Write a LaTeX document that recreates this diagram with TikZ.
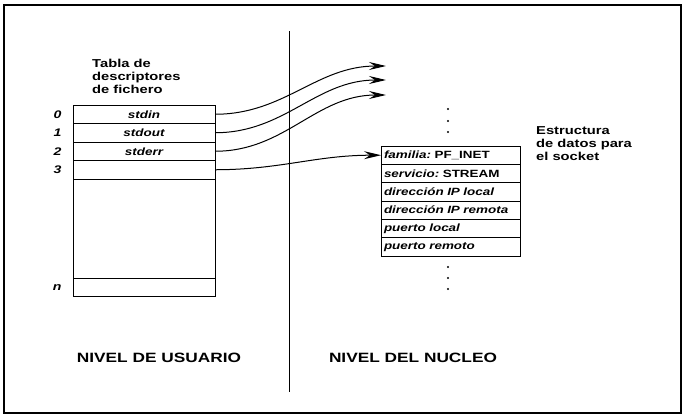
\documentclass[tikz,border=0pt]{standalone}
\usepackage{fontspec}
\setmainfont{Liberation Sans}[FakeStretch=1.28]
\usetikzlibrary{arrows.meta,positioning}

\begin{document}
\begin{tikzpicture}[
  x=1pt, y=-1pt,
  font=\fontsize{11}{13}\selectfont,
  node distance=0pt,
  fd/.style={draw, line width=1pt, minimum width=142, minimum height=18.5,
             inner sep=0pt, outer sep=0pt, font=\fontsize{10.5}{13}\selectfont\bfseries\itshape},
  campo/.style={draw, line width=1pt, minimum height=18.33, inner sep=3pt, outer sep=0pt,
                text width=133, align=left, font=\fontsize{10.5}{13}\selectfont\bfseries},
  idx/.style={font=\fontsize{11}{13}\selectfont\bfseries\itshape},
  titulo/.style={align=left, inner sep=2pt, font=\fontsize{11.5}{13}\selectfont\bfseries},
  nivel/.style={font=\fontsize{13.5}{16}\selectfont\bfseries},
  punto/.style={circle, fill, inner sep=0pt, minimum size=2.4pt},
  arr/.style={-{Stealth[length=17pt, width=8pt, inset=6pt]}, line width=1pt}
]
\useasboundingbox (0,0) rectangle (685,416);
\draw[line width=1.5pt] (4,5) rectangle (681,413);
\draw[line width=1pt] (289.5,31) -- (289.5,392);

\node[titulo, anchor=west] (tabla) at (90,76) {Tabla de\\descriptores\\de fichero};
\node[fd] (d0) at (144,114.25) {stdin};
\node[fd, below=of d0] (d1) {stdout};
\node[fd, below=of d1] (d2) {stderr};
\node[fd, below=of d2] (d3) {};
\node[fd, minimum height=99, below=of d3] (dvacio) {};
\node[fd, below=of dvacio] (dn) {};
\node[idx, left=8pt of d0] (i0) {0};
\node[idx, left=8pt of d1] (i1) {1};
\node[idx, left=8pt of d2] (i2) {2};
\node[idx, left=8pt of d3] (i3) {3};
\node[idx, left=8pt of dn] (in) {n};

\node[campo] (c0) at (450.5,155.2) {\itshape familia:\upshape\ PF\_INET};
\node[campo, below=of c0] (c1) {\itshape servicio:\upshape\ STREAM};
\node[campo, below=of c1] (c2) {\itshape dirección IP local};
\node[campo, below=of c2] (c3) {\itshape dirección IP remota};
\node[campo, below=of c3] (c4) {\itshape puerto local};
\node[campo, below=of c4] (c5) {\itshape puerto remoto};
\node[titulo, anchor=west] (estr) at (534,143.5) {Estructura\\de datos para\\el socket};

\foreach \i/\y in {1/109,2/121,3/132} \node[punto] (arriba\i) at (448,\y) {};
\foreach \i/\y in {1/267,2/278,3/289} \node[punto] (abajo\i) at (448,\y) {};

\coordinate (e0) at (386,66);
\coordinate (e1) at (386,80);
\coordinate (e2) at (386,95);
\draw[arr] (d0.east) to[out=0, in=180] (e0);
\draw[arr] (d1.east) to[out=0, in=180] (e1);
\draw[arr] (d2.east) to[out=0, in=180] (e2);
\draw[arr] (d3.east) to[out=0, in=180] (c0.west);

\node[nivel] (usuario) at (159,358) {NIVEL DE USUARIO};
\node[nivel] (nucleo) at (413,358) {NIVEL DEL NUCLEO};
\end{tikzpicture}
\end{document}
